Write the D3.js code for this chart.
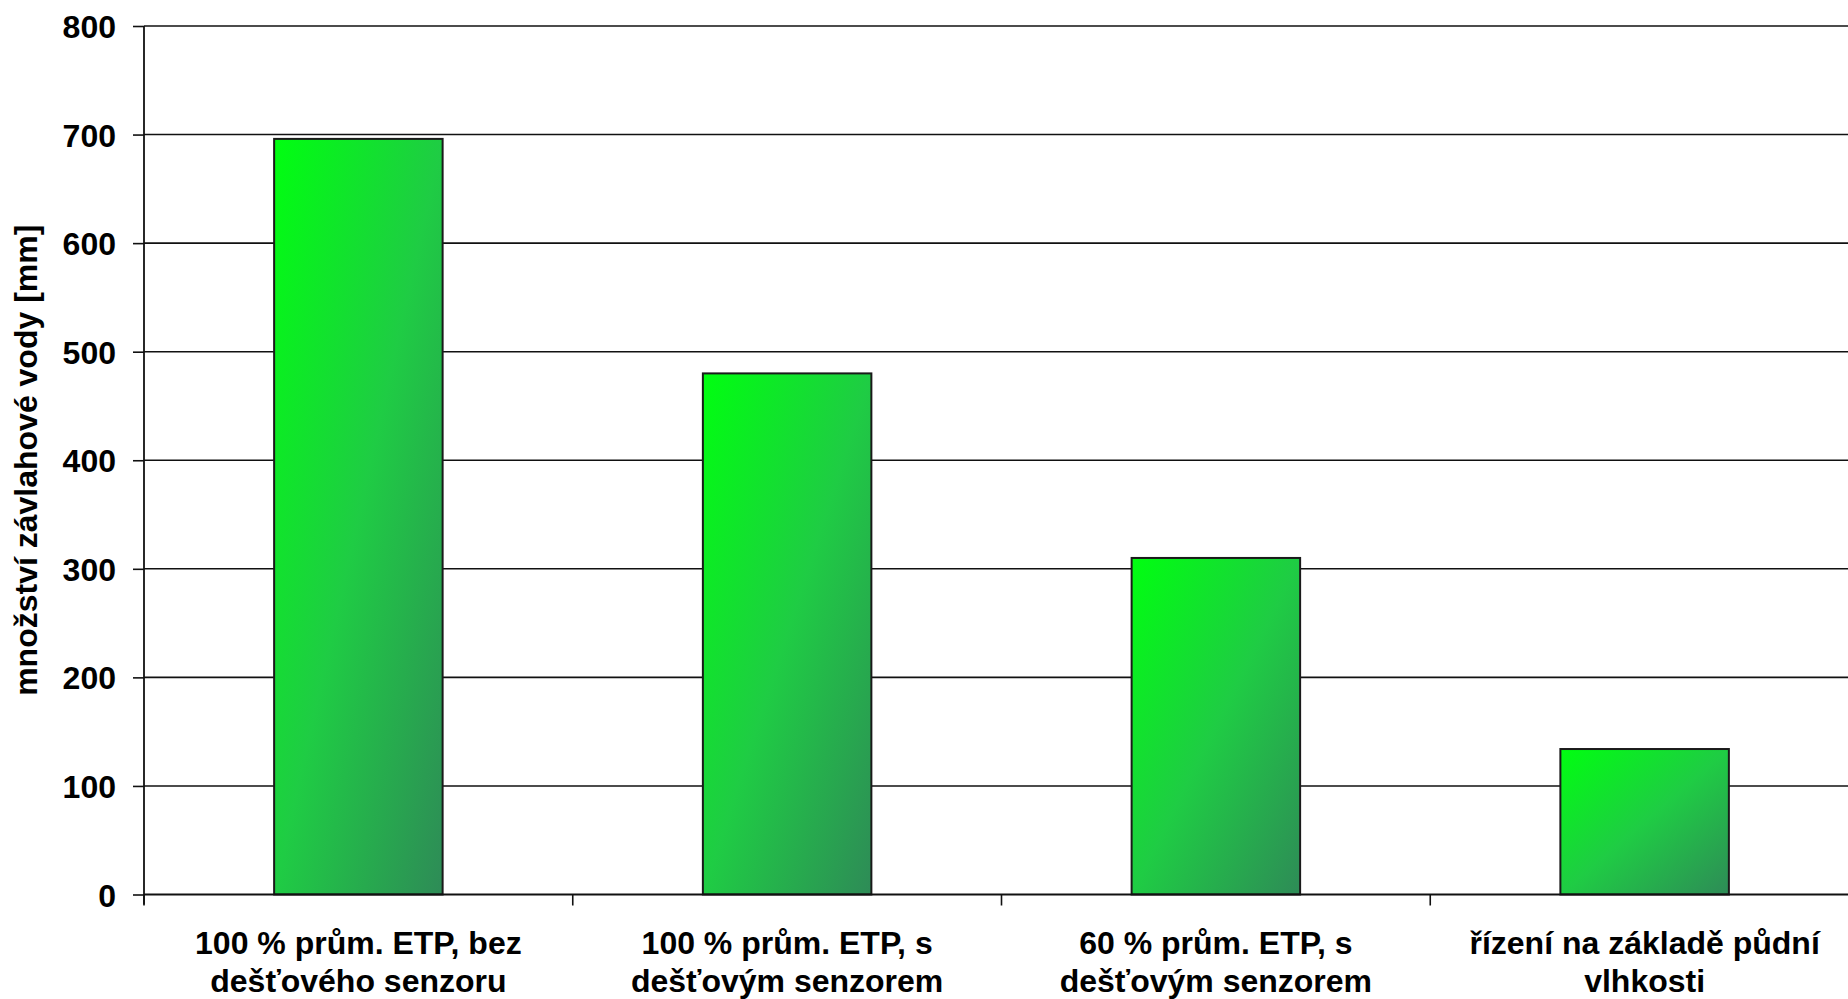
<!DOCTYPE html>
<html>
<head>
<meta charset="utf-8">
<script src="https://cdn.jsdelivr.net/npm/d3@7/dist/d3.min.js"></script>
<style>
  html, body { margin: 0; padding: 0; background: #fff; }
  svg { display: block; }
  text { font-family: "Liberation Sans", Arial, sans-serif; font-weight: bold; fill: #000; }
</style>
</head>
<body>
<svg id="chart" width="1848" height="999"></svg>
<script>
// Irrigation water amount per control strategy
const categories = [
  ["100 % prům. ETP, bez", "dešťového senzoru"],
  ["100 % prům. ETP, s", "dešťovým senzorem"],
  ["60 % prům. ETP, s", "dešťovým senzorem"],
  ["řízení na základě půdní", "vlhkosti"]
];
const values = [696, 480, 310, 134];
const yTicks = [0, 100, 200, 300, 400, 500, 600, 700, 800];
const yTitle = "množství závlahové vody [mm]";

const svg = d3.select("#chart");
const W = 1848, H = 999;
const plotLeft = 144, plotRight = 1859, plotTop = 26, plotBottom = 894.5;

const keys = categories.map((c, i) => i);
const x = d3.scaleBand().domain(keys).range([plotLeft, plotRight]).paddingInner(0.607).paddingOuter(0.3035);
const y = d3.scaleLinear().domain([0, 800]).range([plotBottom, plotTop]);

// diagonal green gradient for the bars
const defs = svg.append("defs");
const grad = defs.append("linearGradient").attr("id", "barFill")
  .attr("x1", 0).attr("y1", 0).attr("x2", 1).attr("y2", 1);
grad.append("stop").attr("offset", "0%").attr("stop-color", "#00ff10");
grad.append("stop").attr("offset", "50%").attr("stop-color", "#1fcc44");
grad.append("stop").attr("offset", "100%").attr("stop-color", "#2e8b57");

// horizontal gridlines
svg.append("g").selectAll("line").data(yTicks.filter(t => t > 0)).join("line")
  .attr("x1", plotLeft).attr("x2", W)
  .attr("y1", d => y(d)).attr("y2", d => y(d))
  .attr("stroke", "#111").attr("stroke-width", 1.6);

// y axis
const yAxis = d3.axisLeft(y).tickValues(yTicks).tickSize(11).tickPadding(17).tickFormat(d3.format("d"));
const gy = svg.append("g").attr("transform", `translate(${plotLeft},0)`).call(yAxis);
gy.select(".domain").remove();
gy.selectAll(".tick line").attr("stroke", "#111").attr("stroke-width", 1.6);
gy.selectAll(".tick text").attr("font-size", 32).attr("font-family", null).attr("fill", "#000").attr("dy", "0.36em");
svg.append("line").attr("x1", plotLeft).attr("x2", plotLeft).attr("y1", plotTop).attr("y2", plotBottom + 10)
  .attr("stroke", "#111").attr("stroke-width", 1.8);

// bars
svg.append("g").selectAll("rect").data(values).join("rect")
  .attr("x", (d, i) => x(i))
  .attr("y", d => y(d))
  .attr("width", x.bandwidth())
  .attr("height", d => y(0) - y(d))
  .attr("fill", "url(#barFill)")
  .attr("stroke", "#1a1a1a").attr("stroke-width", 2);

// x axis baseline and category boundary ticks
svg.append("line").attr("x1", plotLeft).attr("x2", W).attr("y1", plotBottom).attr("y2", plotBottom)
  .attr("stroke", "#111").attr("stroke-width", 1.8);
const edges = d3.range(categories.length + 1).map(i => plotLeft + i * x.step());
svg.append("g").selectAll("line").data(edges).join("line")
  .attr("x1", d => d).attr("x2", d => d)
  .attr("y1", plotBottom).attr("y2", plotBottom + 11)
  .attr("stroke", "#111").attr("stroke-width", 1.6);

// category labels (two lines each)
const labels = svg.append("g").selectAll("text").data(categories).join("text")
  .attr("x", (d, i) => x(i) + x.bandwidth() / 2)
  .attr("y", 954)
  .attr("text-anchor", "middle")
  .attr("font-size", 32);
labels.selectAll("tspan").data(d => d).join("tspan")
  .attr("x", function() { return this.parentNode.getAttribute("x"); })
  .attr("dy", (d, j) => j === 0 ? 0 : 38)
  .text(d => d);

// y axis title
svg.append("text")
  .attr("transform", `translate(37,${(plotTop + plotBottom) / 2}) rotate(-90)`)
  .attr("text-anchor", "middle")
  .attr("font-size", 32)
  .text(yTitle);
</script>
</body>
</html>
